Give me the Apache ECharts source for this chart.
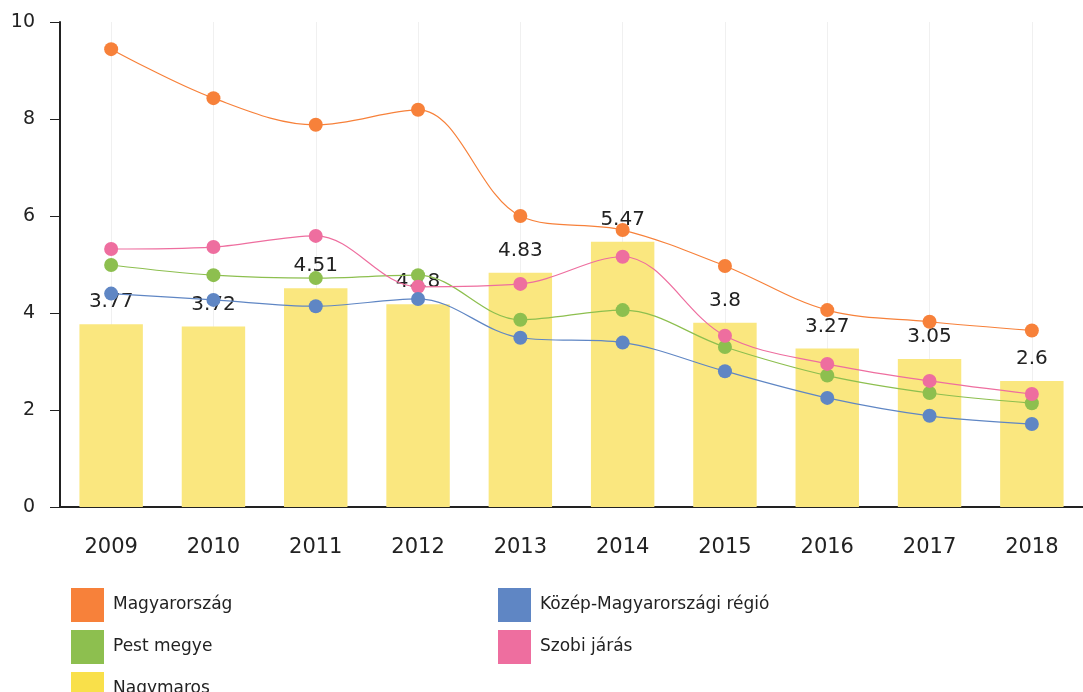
<!DOCTYPE html>
<html>
<head>
<meta charset="utf-8">
<script src="https://cdn.jsdelivr.net/npm/echarts@6/dist/echarts.min.js"></script>
<style>
html, body { margin: 0; padding: 0; background: #fff; }
#chart { width: 1083px; height: 692px; }
</style>
</head>
<body>
<div id="chart"></div>
<script>
var years = ['2009', '2010', '2011', '2012', '2013', '2014', '2015', '2016', '2017', '2018'];
var magyarorszag = [9.44, 8.43, 7.88, 8.19, 6.0, 5.71, 4.97, 4.06, 3.82, 3.64];
var pestMegye = [4.99, 4.78, 4.72, 4.78, 3.86, 4.06, 3.3, 2.71, 2.35, 2.14];
var szobiJaras = [5.32, 5.36, 5.59, 4.54, 4.6, 5.16, 3.53, 2.95, 2.6, 2.33];
var kozepRegio = [4.4, 4.27, 4.14, 4.29, 3.49, 3.39, 2.8, 2.25, 1.88, 1.71];
var nagymaros = [3.77, 3.72, 4.51, 4.18, 4.83, 5.47, 3.8, 3.27, 3.05, 2.6];

var font = 'DejaVu Sans';

function lineSeries(name, color, data) {
    return {
        name: name,
        type: 'line',
        smooth: 0.35,
        symbol: 'circle',
        symbolSize: 14,
        itemStyle: { color: color },
        lineStyle: { color: color, width: 1.2 },
        data: data
    };
}

function legendBox(left, names) {
    return {
        orient: 'vertical',
        left: left, top: 588, height: 160,
        padding: 0,
        itemWidth: 33, itemHeight: 34, itemGap: 8,
        icon: 'rect',
        textStyle: { fontSize: 17, color: '#222', fontFamily: font, padding: [0, 0, 0, 4] },
        data: names
    };
}

var chart = echarts.init(document.getElementById('chart'));
chart.setOption({
    backgroundColor: '#fff',
    animation: false,
    textStyle: { fontFamily: font },
    grid: { left: 60, right: -10, top: 22, bottom: 185 },
    legend: [
        legendBox(71, ['Magyarország', 'Pest megye', { name: 'Nagymaros', itemStyle: { color: '#f9e04a' } }]),
        legendBox(498, ['Közép-Magyarországi régió', 'Szobi járás'])
    ],
    xAxis: {
        type: 'category',
        data: years,
        axisLine: { lineStyle: { color: '#222', width: 2 } },
        axisTick: { alignWithLabel: true, length: 8, lineStyle: { color: '#222' } },
        axisLabel: { fontSize: 21, color: '#222', margin: 30 },
        splitLine: { show: true, alignWithLabel: true, lineStyle: { color: '#f0f0f0' } }
    },
    yAxis: {
        type: 'value',
        min: 0, max: 10, interval: 2,
        axisLine: { show: true, lineStyle: { color: '#222', width: 2 } },
        axisTick: { show: true, length: 10, lineStyle: { color: '#222' } },
        axisLabel: { fontSize: 19, color: '#222', margin: 25 },
        splitLine: { show: false }
    },
    series: [
        {
            name: 'Nagymaros',
            type: 'bar',
            barWidth: '62%',
            itemStyle: { color: '#fae77f' },
            label: {
                show: true,
                position: 'top',
                distance: 12,
                fontSize: 20,
                color: '#222'
            },
            data: nagymaros
        },
        lineSeries('Magyarország', '#f7813a', magyarorszag),
        lineSeries('Pest megye', '#8dbf4f', pestMegye),
        lineSeries('Szobi járás', '#ee6e9f', szobiJaras),
        lineSeries('Közép-Magyarországi régió', '#5f86c4', kozepRegio)
    ]
});
</script>
</body>
</html>
